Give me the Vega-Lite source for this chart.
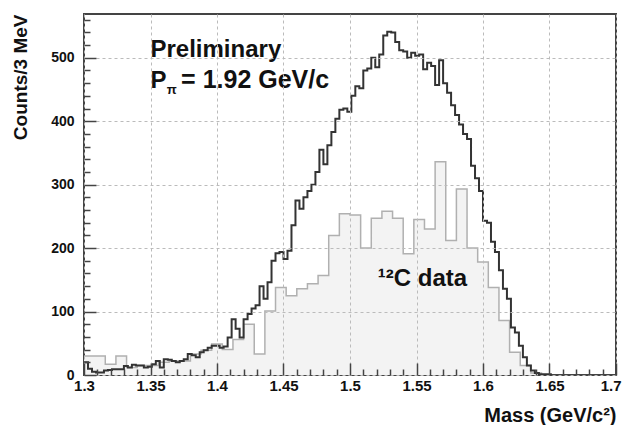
{
  "$schema": "https://vega.github.io/schema/vega-lite/v6.json",
  "width": 532,
  "height": 361,
  "autosize": "none",
  "padding": {"left": 84, "top": 14, "right": 9, "bottom": 50},
  "background": "white",
  "config": {"view": {"stroke": "#444", "strokeWidth": 2}, "font": "Liberation Sans"},
  "datasets": {
    "pip": [
      {"m":1.300,"n":20},{"m":1.303,"n":10},{"m":1.306,"n":5},{"m":1.309,"n":4},{"m":1.312,"n":4},
      {"m":1.315,"n":7},{"m":1.318,"n":8},{"m":1.321,"n":9},{"m":1.324,"n":9},{"m":1.327,"n":9},
      {"m":1.330,"n":14},{"m":1.333,"n":12},{"m":1.336,"n":16},{"m":1.339,"n":15},{"m":1.342,"n":15},
      {"m":1.345,"n":12},{"m":1.348,"n":13},{"m":1.351,"n":17},{"m":1.354,"n":22},{"m":1.357,"n":12},
      {"m":1.360,"n":25},{"m":1.363,"n":24},{"m":1.366,"n":22},{"m":1.369,"n":20},{"m":1.372,"n":22},
      {"m":1.375,"n":25},{"m":1.378,"n":33},{"m":1.381,"n":31},{"m":1.384,"n":28},{"m":1.387,"n":36},
      {"m":1.390,"n":39},{"m":1.393,"n":43},{"m":1.396,"n":46},{"m":1.399,"n":46},{"m":1.402,"n":43},
      {"m":1.405,"n":45},{"m":1.408,"n":59},{"m":1.411,"n":88},{"m":1.414,"n":73},{"m":1.417,"n":59},
      {"m":1.420,"n":88},{"m":1.423,"n":96},{"m":1.426,"n":105},{"m":1.429,"n":110},{"m":1.432,"n":140},
      {"m":1.435,"n":120},{"m":1.438,"n":146},{"m":1.441,"n":180},{"m":1.444,"n":192},{"m":1.447,"n":194},
      {"m":1.450,"n":183},{"m":1.453,"n":196},{"m":1.456,"n":236},{"m":1.459,"n":275},{"m":1.462,"n":262},
      {"m":1.465,"n":280},{"m":1.468,"n":290},{"m":1.471,"n":300},{"m":1.474,"n":320},{"m":1.477,"n":355},
      {"m":1.480,"n":332},{"m":1.483,"n":362},{"m":1.486,"n":383},{"m":1.489,"n":404},{"m":1.492,"n":418},
      {"m":1.495,"n":420},{"m":1.498,"n":415},{"m":1.501,"n":440},{"m":1.504,"n":455},{"m":1.507,"n":452},
      {"m":1.510,"n":480},{"m":1.513,"n":483},{"m":1.516,"n":500},{"m":1.519,"n":485},{"m":1.522,"n":505},
      {"m":1.525,"n":535},{"m":1.528,"n":541},{"m":1.531,"n":540},{"m":1.534,"n":525},{"m":1.537,"n":512},
      {"m":1.540,"n":510},{"m":1.543,"n":500},{"m":1.546,"n":508},{"m":1.549,"n":503},{"m":1.552,"n":505},
      {"m":1.555,"n":482},{"m":1.558,"n":492},{"m":1.561,"n":487},{"m":1.564,"n":457},{"m":1.567,"n":496},
      {"m":1.570,"n":460},{"m":1.573,"n":445},{"m":1.576,"n":425},{"m":1.579,"n":410},{"m":1.582,"n":395},
      {"m":1.585,"n":380},{"m":1.588,"n":372},{"m":1.591,"n":330},{"m":1.594,"n":310},{"m":1.597,"n":290},
      {"m":1.600,"n":243},{"m":1.603,"n":240},{"m":1.606,"n":210},{"m":1.609,"n":194},{"m":1.612,"n":165},
      {"m":1.615,"n":136},{"m":1.618,"n":120},{"m":1.621,"n":75},{"m":1.624,"n":67},{"m":1.627,"n":46},
      {"m":1.630,"n":28},{"m":1.633,"n":15},{"m":1.636,"n":7},{"m":1.639,"n":3},{"m":1.642,"n":1},
      {"m":1.645,"n":1},{"m":1.648,"n":1},{"m":1.651,"n":0}
    ],
    "c12": [
      {"m":1.300,"n":30},{"m":1.308,"n":30},{"m":1.316,"n":17},{"m":1.324,"n":30},{"m":1.332,"n":12},
      {"m":1.340,"n":15},{"m":1.348,"n":15},{"m":1.356,"n":20},{"m":1.364,"n":22},{"m":1.372,"n":22},
      {"m":1.380,"n":33},{"m":1.388,"n":39},{"m":1.396,"n":49},{"m":1.404,"n":40},{"m":1.412,"n":56},
      {"m":1.420,"n":80},{"m":1.428,"n":33},{"m":1.436,"n":101},{"m":1.444,"n":138},{"m":1.452,"n":125},
      {"m":1.460,"n":136},{"m":1.468,"n":144},{"m":1.476,"n":157},{"m":1.484,"n":220},{"m":1.492,"n":254},
      {"m":1.500,"n":252},{"m":1.508,"n":200},{"m":1.516,"n":247},{"m":1.524,"n":258},{"m":1.532,"n":247},
      {"m":1.540,"n":191},{"m":1.548,"n":245},{"m":1.556,"n":230},{"m":1.564,"n":336},{"m":1.572,"n":212},
      {"m":1.580,"n":293},{"m":1.588,"n":200},{"m":1.596,"n":178},{"m":1.604,"n":138},{"m":1.612,"n":86},
      {"m":1.620,"n":36},{"m":1.628,"n":15},{"m":1.636,"n":3},{"m":1.644,"n":0}
    ]
  },
  "layer": [
    {
      "encoding": {
        "x": {
          "field": "m", "type": "quantitative",
          "scale": {"domain": [1.3, 1.7], "nice": false, "zero": false},
          "axis": {
            "title": "Mass (GeV/c²)", "titleAnchor": "end", "titleFont": "Liberation Sans",
            "titleFontSize": 20, "titleFontWeight": "bold", "titleColor": "#111", "titlePadding": 6,
            "values": [1.3,1.31,1.32,1.33,1.34,1.35,1.36,1.37,1.38,1.39,1.4,1.41,1.42,1.43,1.44,1.45,1.46,1.47,1.48,1.49,1.5,1.51,1.52,1.53,1.54,1.55,1.56,1.57,1.58,1.59,1.6,1.61,1.62,1.63,1.64,1.65,1.66,1.67,1.68,1.69,1.7],
            "labelExpr": "abs(datum.value*20 - round(datum.value*20)) < 0.001 ? format(datum.value, '~g') : ''",
            "labelFont": "Liberation Sans", "labelFontSize": 15, "labelFontWeight": "bold", "labelColor": "#111",
            "labelPadding": 15, "labelFlush": false, "labelOverlap": false, "labelBound": false,
            "labelAlign": {"condition": {"test": "datum.value > 1.695", "value": "right"}, "value": "center"},
            "labelOffset": {"condition": {"test": "datum.value > 1.695", "value": 5}, "value": 0},
            "domain": false, "tickColor": "#444", "tickWidth": 1.5,
            "tickSize": {"condition": {"test": "abs(datum.value*20 - round(datum.value*20)) < 0.001", "value": -12}, "value": -6},
            "grid": true, "gridColor": "#bbb", "gridDash": [3, 3],
            "gridOpacity": {"condition": {"test": "abs(datum.value*20 - round(datum.value*20)) < 0.001", "value": 1}, "value": 0},
            "zindex": 1
          }
        },
        "y": {
          "field": "n", "type": "quantitative",
          "scale": {"domain": [0, 569], "nice": false, "zero": true},
          "axis": {
            "title": "Counts/3 MeV", "titleAnchor": "end", "titleFont": "Liberation Sans",
            "titleFontSize": 19, "titleFontWeight": "bold", "titleColor": "#111", "titlePadding": 20,
            "values": [0,20,40,60,80,100,120,140,160,180,200,220,240,260,280,300,320,340,360,380,400,420,440,460,480,500,520,540,560],
            "labelExpr": "datum.value % 100 === 0 ? datum.label : ''",
            "labelFont": "Liberation Sans", "labelFontSize": 14, "labelFontWeight": "bold", "labelColor": "#111",
            "labelPadding": 22, "labelFlush": false, "labelOverlap": false, "labelBound": false,
            "domain": false, "tickColor": "#444", "tickWidth": 1.5,
            "tickSize": {"condition": {"test": "datum.value % 100 === 0", "value": -12}, "value": -6},
            "grid": true, "gridColor": "#bbb", "gridDash": [3, 3],
            "gridOpacity": {"condition": {"test": "datum.value % 100 === 0", "value": 1}, "value": 0},
            "zindex": 1
          }
        }
      },
      "layer": [
        {"data": {"name": "c12"}, "mark": {"type": "area", "interpolate": "step-after", "color": "#f3f3f3", "opacity": 1}},
        {"data": {"name": "c12"}, "mark": {"type": "line", "interpolate": "step-after", "color": "#b0b0b0", "strokeWidth": 1.5}},
        {"data": {"name": "pip"}, "mark": {"type": "line", "interpolate": "step-after", "color": "#333333", "strokeWidth": 2}}
      ]
    },
    {
      "data": {"values": [{"t": "Preliminary"}]},
      "mark": {"type": "text", "align": "left", "baseline": "alphabetic", "font": "Liberation Sans", "fontSize": 24, "fontWeight": "bold", "fill": "#111",
               "x": {"expr": "scale('x', 1.35)"}, "y": {"expr": "scale('y', 502)"}},
      "encoding": {"text": {"field": "t", "type": "nominal"}}
    },
    {
      "data": {"values": [{"t": "P"}]},
      "mark": {"type": "text", "align": "left", "baseline": "alphabetic", "font": "Liberation Sans", "fontSize": 24, "fontWeight": "bold", "fill": "#111",
               "x": {"expr": "scale('x', 1.35)"}, "y": {"expr": "scale('y', 453)"}},
      "encoding": {"text": {"field": "t", "type": "nominal"}}
    },
    {
      "data": {"values": [{"t": "π"}]},
      "mark": {"type": "text", "align": "left", "baseline": "alphabetic", "font": "Liberation Sans", "fontSize": 13, "fontWeight": "bold", "fill": "#111",
               "x": {"expr": "scale('x', 1.3622)"}, "y": {"expr": "scale('y', 443)"}},
      "encoding": {"text": {"field": "t", "type": "nominal"}}
    },
    {
      "data": {"values": [{"t": "= 1.92 GeV/c"}]},
      "mark": {"type": "text", "align": "left", "baseline": "alphabetic", "font": "Liberation Sans", "fontSize": 25, "fontWeight": "bold", "fill": "#111",
               "x": {"expr": "scale('x', 1.373)"}, "y": {"expr": "scale('y', 453)"}},
      "encoding": {"text": {"field": "t", "type": "nominal"}}
    },
    {
      "data": {"values": [{"t": "¹²C data"}]},
      "mark": {"type": "text", "align": "left", "baseline": "alphabetic", "font": "Liberation Sans", "fontSize": 24, "fontWeight": "bold", "fill": "#111",
               "x": {"expr": "scale('x', 1.5209)"}, "y": {"expr": "scale('y', 141)"}},
      "encoding": {"text": {"field": "t", "type": "nominal"}}
    }
  ]
}
